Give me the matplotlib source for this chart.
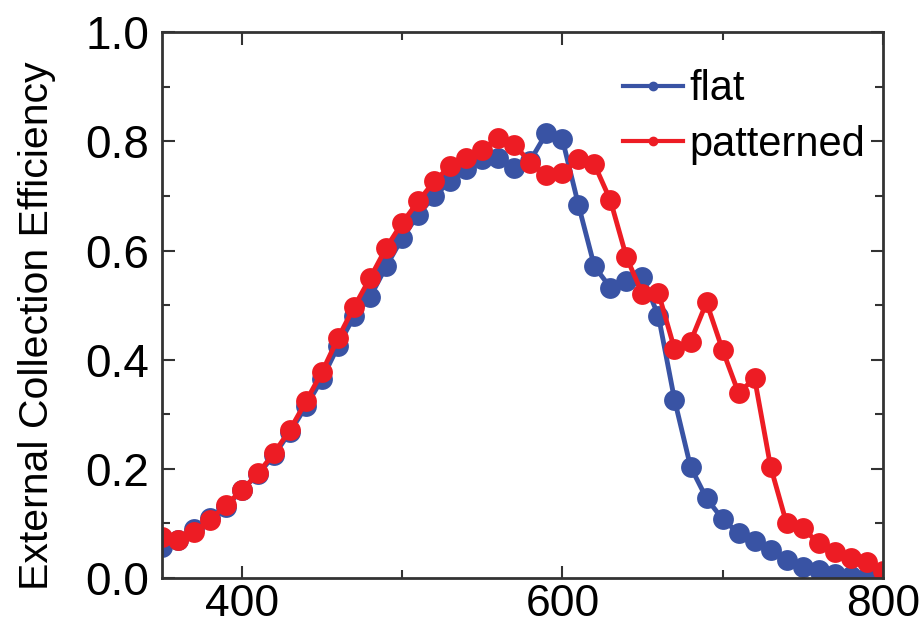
import matplotlib
matplotlib.use("Agg")
import matplotlib.pyplot as plt
from matplotlib.ticker import MultipleLocator

plt.rcParams['font.family'] = ['Liberation Sans', 'DejaVu Sans']

wavelength = list(range(350, 801, 10))

flat = [0.057, 0.07, 0.09, 0.11, 0.13, 0.162, 0.19, 0.225, 0.268, 0.315,
        0.365, 0.425, 0.48, 0.515, 0.571, 0.623, 0.666, 0.70, 0.727, 0.749,
        0.767, 0.77, 0.752, 0.765, 0.815, 0.804, 0.684, 0.571, 0.532, 0.544,
        0.552, 0.48, 0.327, 0.204, 0.146, 0.108, 0.082, 0.067, 0.051, 0.033,
        0.021, 0.015, 0.008, 0.004, 0.002, 0.0]

patterned = [0.076, 0.07, 0.085, 0.106, 0.134, 0.161, 0.192, 0.229, 0.272, 0.324,
             0.378, 0.44, 0.497, 0.55, 0.605, 0.651, 0.69, 0.727, 0.755, 0.77,
             0.785, 0.807, 0.794, 0.761, 0.738, 0.742, 0.768, 0.758, 0.692, 0.588,
             0.52, 0.522, 0.42, 0.433, 0.505, 0.418, 0.339, 0.366, 0.204, 0.10,
             0.091, 0.064, 0.048, 0.036, 0.03, 0.012]

series_labels = ["flat", "patterned"]
blue = "#3953a4"
red = "#ed1c24"

fig = plt.figure(figsize=(9.24, 6.28), dpi=100)
ax = fig.add_axes([0.1753, 0.0796, 0.780, 0.869])

ax.plot(wavelength, flat, color=blue, lw=3.5, marker="o", ms=15,
        markeredgewidth=0, zorder=3)
ax.plot(wavelength, patterned, color=red, lw=3.5, marker="o", ms=15,
        markeredgewidth=0, zorder=4)

ax.set_xlim(350, 800)
ax.set_ylim(0, 1.0)
ax.xaxis.set_major_locator(MultipleLocator(200))
ax.xaxis.set_minor_locator(MultipleLocator(100))
ax.yaxis.set_major_locator(MultipleLocator(0.2))
ax.yaxis.set_minor_locator(MultipleLocator(0.1))
ax.yaxis.set_major_formatter(plt.FuncFormatter(lambda v, p: f"{v:.1f}"))

ax.tick_params(which="both", direction="in", top=True, right=True,
               labelsize=33, color="#333333", width=1.5)
ax.tick_params(axis="y", pad=9)
ax.tick_params(axis="x", pad=4, labelsize=32)
ax.tick_params(which="major", length=9)
ax.tick_params(which="minor", length=6)
for s in ax.spines.values():
    s.set_linewidth(2.0)
    s.set_color("#333333")
    s.set_zorder(5)

ax.set_ylabel("External Collection Efficiency", fontsize=29.5)
ax.yaxis.set_label_coords(-0.147, 0.462)

# legend with small markers
h1, = ax.plot([], [], color=blue, lw=3, marker="o", ms=6)
h2, = ax.plot([], [], color=red, lw=3, marker="o", ms=6)
ax.legend([h1, h2], series_labels, loc="upper left", frameon=False,
          fontsize=30, handlelength=1.45, handletextpad=0.15,
          labelspacing=0.37, borderpad=0, borderaxespad=0,
          bbox_to_anchor=(0.639, 0.932))

fig.savefig("out.png", dpi=100)
